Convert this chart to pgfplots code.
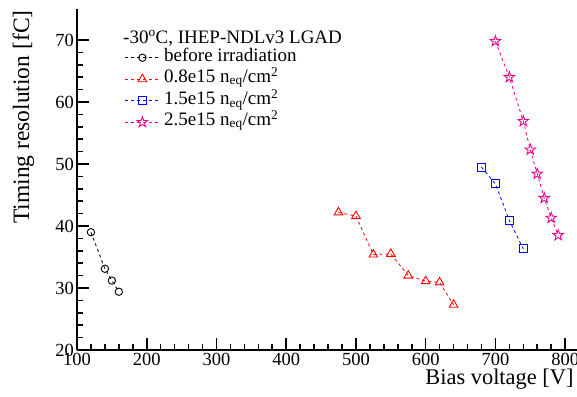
\documentclass[border=0pt]{standalone}
\usepackage{fontspec}
\setmainfont{Liberation Serif}
\usepackage{pgfplots}
\pgfplotsset{compat=1.18}
\usetikzlibrary{plotmarks}
\pgfdeclareplotmark{ostar}{%
  \pgfpathmoveto{\pgfpointpolar{90}{\pgfplotmarksize}}%
  \pgfpathlineto{\pgfpointpolar{126}{0.4\pgfplotmarksize}}%
  \pgfpathlineto{\pgfpointpolar{162}{\pgfplotmarksize}}%
  \pgfpathlineto{\pgfpointpolar{198}{0.4\pgfplotmarksize}}%
  \pgfpathlineto{\pgfpointpolar{234}{\pgfplotmarksize}}%
  \pgfpathlineto{\pgfpointpolar{270}{0.4\pgfplotmarksize}}%
  \pgfpathlineto{\pgfpointpolar{306}{\pgfplotmarksize}}%
  \pgfpathlineto{\pgfpointpolar{342}{0.4\pgfplotmarksize}}%
  \pgfpathlineto{\pgfpointpolar{18}{\pgfplotmarksize}}%
  \pgfpathlineto{\pgfpointpolar{54}{0.4\pgfplotmarksize}}%
  \pgfpathclose\pgfusepathqstroke}
\begin{document}
\begin{tikzpicture}
\useasboundingbox (-77pt,-46pt) rectangle (500pt,350pt);
\begin{axis}[
  at={(0pt,0pt)}, anchor=south west,
  width=500pt, height=341pt, scale only axis,
  xmin=100, xmax=817, ymin=20, ymax=75,
  axis lines*=left, axis line style={-, line width=1.8pt},
  tick align=inside,
  xtick={100,200,...,800}, ytick={20,30,...,70},
  minor x tick num=4, minor y tick num=4,
  every tick/.style={black, line width=1.6pt},
  major tick length=12pt, minor tick length=6pt,
  /pgf/number format/assume math mode=true,
  tick label style={font=\fontsize{18.5}{18.5}\selectfont},
  yticklabel style={inner sep=1pt, xshift=-2pt},
  xlabel={Bias voltage [V]},
  ylabel={Timing resolution [fC]},
  xlabel style={font=\fontsize{22.4}{22.4}\selectfont, at={(axis description cs:1,-0.0997)}, anchor=base east},
  ylabel style={font=\fontsize{23.5}{23.5}\selectfont, at={(axis description cs:-0.096,1.006)}, anchor=base east},
  legend image code/.code={\draw[mark repeat=2,mark phase=2,#1] plot coordinates {(0pt,0pt) (17pt,0pt) (34pt,0pt)};},
  legend cell align=left,
  legend style={draw=none, fill=none, at={(axis description cs:0.096,0.885)}, anchor=north west,
    inner sep=0pt, outer sep=0pt, row sep=2.5pt, font=\fontsize{19}{19}\selectfont,
    /tikz/every odd column/.append style={column sep=-3pt},
    nodes={inner sep=1pt, text height=13pt, text depth=4pt}},
]
\addplot[black, line width=0.8pt, dash pattern=on 3pt off 3pt, mark=o, mark size=3.7pt, mark options={solid, line width=0.9pt}]
  coordinates {(120,39.0)(140,33.1)(150,31.2)(160,29.4)};
\addlegendentry{}
\addplot[red, line width=0.8pt, dash pattern=on 3pt off 3pt, mark=triangle, mark size=5pt, mark options={solid, line width=0.9pt}]
  coordinates {(475,42.2)(500,41.6)(525,35.4)(550,35.5)(575,32.0)(600,31.1)(620,30.9)(640,27.3)};
\addlegendentry{}
\addplot[blue, line width=0.8pt, dash pattern=on 3pt off 3pt, mark=square, mark size=4pt, mark options={solid, line width=0.9pt}]
  coordinates {(680,49.5)(700,46.8)(720,40.9)(740,36.3)};
\addlegendentry{}
\addplot[magenta, line width=0.8pt, dash pattern=on 3pt off 3pt, mark=ostar, mark size=5.5pt, mark options={solid, line width=0.9pt}]
  coordinates {(700,69.8)(720,64.0)(740,56.9)(750,52.3)(760,48.4)(770,44.5)(780,41.3)(790,38.5)};
\addlegendentry{}
\node[anchor=base west, font=\fontsize{19}{19}\selectfont, inner sep=0pt] at (axis description cs:0.092,0.900) {-30\textsuperscript{o}C, IHEP-NDLv3 LGAD};
\node[anchor=base west, font=\fontsize{19}{19}\selectfont, inner sep=0pt] at (axis description cs:0.174,0.8455) {before irradiation};
\node[anchor=base west, font=\fontsize{19}{19}\selectfont, inner sep=0pt] at (axis description cs:0.174,0.7850) {0.8e15 n\textsubscript{eq}/cm\textsuperscript{2}};
\node[anchor=base west, font=\fontsize{19}{19}\selectfont, inner sep=0pt] at (axis description cs:0.174,0.7193) {1.5e15 n\textsubscript{eq}/cm\textsuperscript{2}};
\node[anchor=base west, font=\fontsize{19}{19}\selectfont, inner sep=0pt] at (axis description cs:0.174,0.6589) {2.5e15 n\textsubscript{eq}/cm\textsuperscript{2}};
\end{axis}
\end{tikzpicture}
\end{document}
